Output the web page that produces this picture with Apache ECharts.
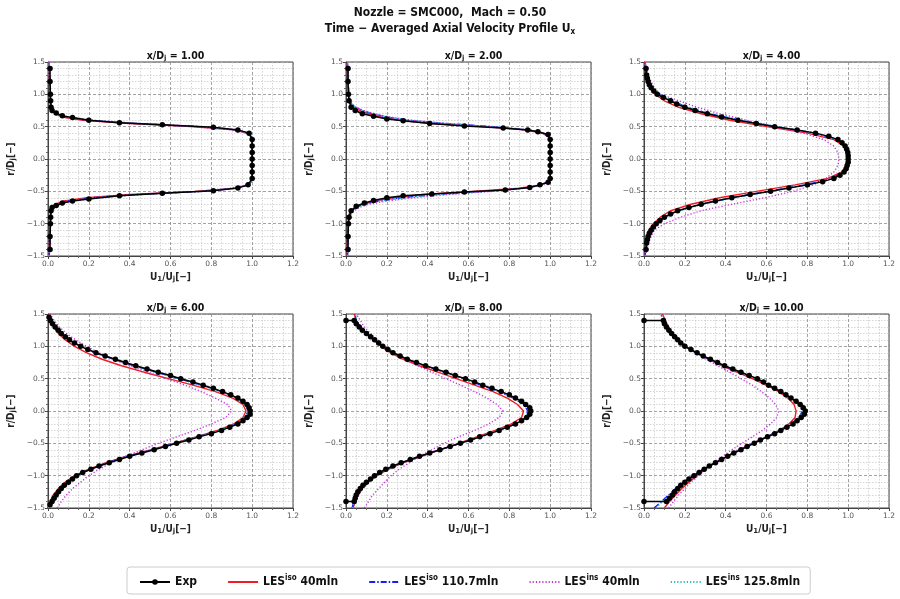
<!DOCTYPE html>
<html>
<head>
<meta charset="utf-8">
<title>SMC000 axial velocity profiles</title>
<script src="https://cdn.jsdelivr.net/npm/echarts@6/dist/echarts.min.js"></script>
<style>
html, body { margin: 0; padding: 0; background: #fff; }
#chart { width: 900px; height: 599px; }
</style>
</head>
<body>
<div id="chart"></div>
<script>
// stations x/Dj, one panel each
const STATIONS = ['1.00', '2.00', '4.00', '6.00', '8.00', '10.00']
const U_TICKS = [0.0, 0.2, 0.4, 0.6, 0.8, 1.0, 1.2]
const R_TICKS = [-1.5, -1.0, -0.5, 0.0, 0.5, 1.0, 1.5]

// r/Dj sample points of the LES profiles
const R_SIM_1 = [-1.5, -1.2, -1.0, -0.85, -0.8, -0.75, -0.7, -0.65, -0.6, -0.55, -0.5, -0.45, -0.4, -0.35, -0.3, 0, 0.3, 0.35, 0.4, 0.45, 0.5, 0.55, 0.6, 0.65, 0.7, 0.75, 0.8, 0.85, 1.0, 1.2, 1.5]
const R_SIM_2 = [-1.5, -1.2, -1.0, -0.9, -0.85, -0.8, -0.75, -0.7, -0.65, -0.6, -0.55, -0.5, -0.45, -0.4, -0.35, -0.3, 0, 0.3, 0.35, 0.4, 0.45, 0.5, 0.55, 0.6, 0.65, 0.7, 0.75, 0.8, 0.85, 0.9, 1.0, 1.2, 1.5]
const R_PROFILE = [-1.5, -1.4, -1.3, -1.2, -1.1, -1.0, -0.9, -0.8, -0.7, -0.6, -0.5, -0.4, -0.3, -0.2, -0.1, 0, 0.1, 0.2, 0.3, 0.4, 0.5, 0.6, 0.7, 0.8, 0.9, 1.0, 1.1, 1.2, 1.3, 1.4, 1.5]

// x/Dj = 1
const ISO40_1 = [0.005, 0.008, 0.01, 0.012, 0.015, 0.02, 0.035, 0.08, 0.19, 0.4, 0.72, 0.92, 0.975, 0.995, 1.0, 1.0, 1.0, 0.995, 0.975, 0.91, 0.7, 0.4, 0.17, 0.07, 0.035, 0.02, 0.015, 0.012, 0.01, 0.008, 0.005]
const ISO110_1 = [0.006, 0.01, 0.012, 0.015, 0.018, 0.025, 0.04, 0.09, 0.21, 0.43, 0.76, 0.93, 0.98, 0.997, 1.0, 1.0, 1.0, 0.997, 0.98, 0.93, 0.75, 0.43, 0.19, 0.08, 0.04, 0.022, 0.016, 0.013, 0.011, 0.009, 0.006]
const INS40_1 = [0.004, 0.007, 0.009, 0.012, 0.016, 0.03, 0.06, 0.12, 0.24, 0.45, 0.74, 0.9, 0.97, 0.99, 1.0, 1.0, 1.0, 0.99, 0.97, 0.9, 0.72, 0.44, 0.22, 0.1, 0.05, 0.025, 0.015, 0.011, 0.009, 0.007, 0.004]
const INS125_1 = [0.005, 0.009, 0.011, 0.014, 0.018, 0.026, 0.045, 0.1, 0.22, 0.44, 0.75, 0.92, 0.978, 0.995, 1.0, 1.0, 1.0, 0.995, 0.978, 0.92, 0.74, 0.43, 0.2, 0.09, 0.042, 0.024, 0.017, 0.013, 0.01, 0.008, 0.005]
const EXP_R_1 = [-1.4, -1.2, -1.0, -0.9, -0.8, -0.75, -0.72, -0.68, -0.65, -0.62, -0.57, -0.53, -0.49, -0.45, -0.4, -0.3, -0.2, -0.1, 0, 0.1, 0.2, 0.3, 0.4, 0.45, 0.49, 0.53, 0.56, 0.6, 0.64, 0.67, 0.71, 0.75, 0.8, 0.9, 1.0, 1.2, 1.4]
const EXP_U_1 = [0.01, 0.01, 0.012, 0.013, 0.015, 0.02, 0.04, 0.07, 0.12, 0.2, 0.35, 0.56, 0.81, 0.93, 0.98, 1.0, 1.0, 1.0, 1.0, 1.0, 1.0, 1.0, 0.985, 0.93, 0.81, 0.56, 0.35, 0.2, 0.12, 0.07, 0.04, 0.02, 0.015, 0.013, 0.012, 0.01, 0.01]

// x/Dj = 2
const ISO40_2 = [0.006, 0.008, 0.01, 0.012, 0.016, 0.025, 0.045, 0.08, 0.14, 0.23, 0.38, 0.62, 0.85, 0.95, 0.99, 1.0, 1.0, 1.0, 0.99, 0.96, 0.87, 0.67, 0.42, 0.26, 0.17, 0.11, 0.065, 0.038, 0.024, 0.017, 0.012, 0.009, 0.006]
const ISO110_2 = [0.008, 0.01, 0.012, 0.015, 0.02, 0.03, 0.05, 0.09, 0.16, 0.27, 0.44, 0.68, 0.88, 0.96, 0.993, 1.0, 1.0, 1.0, 0.993, 0.97, 0.9, 0.72, 0.48, 0.3, 0.2, 0.13, 0.08, 0.045, 0.028, 0.02, 0.015, 0.01, 0.008]
const INS40_2 = [0.006, 0.008, 0.011, 0.016, 0.025, 0.04, 0.065, 0.11, 0.2, 0.33, 0.5, 0.72, 0.88, 0.96, 0.99, 1.0, 1.0, 1.0, 0.99, 0.965, 0.89, 0.71, 0.49, 0.32, 0.21, 0.14, 0.085, 0.05, 0.03, 0.02, 0.014, 0.009, 0.006]
const INS125_2 = [0.008, 0.01, 0.012, 0.016, 0.022, 0.032, 0.055, 0.095, 0.17, 0.28, 0.45, 0.69, 0.88, 0.96, 0.993, 1.0, 1.0, 1.0, 0.993, 0.97, 0.9, 0.72, 0.48, 0.3, 0.2, 0.13, 0.08, 0.046, 0.029, 0.02, 0.015, 0.01, 0.008]
const EXP_R_2 = [-1.4, -1.2, -1.0, -0.9, -0.8, -0.73, -0.68, -0.64, -0.6, -0.57, -0.54, -0.51, -0.48, -0.44, -0.4, -0.36, -0.3, -0.2, -0.1, 0, 0.1, 0.2, 0.3, 0.38, 0.42, 0.45, 0.48, 0.51, 0.55, 0.59, 0.62, 0.66, 0.7, 0.75, 0.8, 0.9, 1.0, 1.2, 1.4]
const EXP_U_2 = [0.01, 0.01, 0.012, 0.015, 0.025, 0.05, 0.09, 0.135, 0.2, 0.28, 0.42, 0.58, 0.78, 0.9, 0.95, 0.99, 1.0, 1.0, 1.0, 1.0, 1.0, 1.0, 1.0, 0.99, 0.94, 0.89, 0.77, 0.58, 0.41, 0.28, 0.2, 0.135, 0.08, 0.045, 0.025, 0.015, 0.012, 0.01, 0.01]

// x/Dj = 4
const ISO40_3 = [0.004, 0.006, 0.009, 0.014, 0.024, 0.045, 0.08, 0.13, 0.23, 0.37, 0.55, 0.74, 0.9, 0.97, 0.99, 0.995, 0.995, 0.98, 0.93, 0.8, 0.6, 0.42, 0.28, 0.17, 0.1, 0.055, 0.028, 0.015, 0.009, 0.006, 0.004]
const ISO110_3 = [0.005, 0.008, 0.012, 0.018, 0.032, 0.058, 0.1, 0.17, 0.28, 0.43, 0.61, 0.79, 0.92, 0.975, 0.993, 0.997, 0.997, 0.985, 0.945, 0.84, 0.65, 0.47, 0.32, 0.21, 0.135, 0.075, 0.038, 0.02, 0.012, 0.008, 0.005]
const INS40_3 = [0.008, 0.013, 0.022, 0.035, 0.05, 0.1, 0.18, 0.28, 0.43, 0.59, 0.73, 0.83, 0.89, 0.93, 0.95, 0.955, 0.95, 0.93, 0.88, 0.78, 0.64, 0.5, 0.37, 0.26, 0.17, 0.08, 0.05, 0.035, 0.02, 0.012, 0.008]
const INS125_3 = [0.005, 0.009, 0.013, 0.02, 0.035, 0.062, 0.105, 0.175, 0.285, 0.44, 0.62, 0.8, 0.925, 0.975, 0.993, 0.997, 0.997, 0.985, 0.945, 0.845, 0.66, 0.48, 0.33, 0.215, 0.14, 0.08, 0.04, 0.022, 0.013, 0.009, 0.005]
const EXP_R_3 = [-1.4, -1.3, -1.25, -1.2, -1.15, -1.1, -1.05, -1.0, -0.95, -0.9, -0.85, -0.8, -0.75, -0.7, -0.65, -0.6, -0.55, -0.5, -0.45, -0.4, -0.35, -0.3, -0.25, -0.2, -0.15, -0.1, -0.05, 0, 0.05, 0.1, 0.15, 0.2, 0.25, 0.3, 0.35, 0.4, 0.45, 0.5, 0.55, 0.6, 0.65, 0.7, 0.75, 0.8, 0.85, 0.9, 0.95, 1.0, 1.05, 1.1, 1.15, 1.2, 1.25, 1.3, 1.4]
const EXP_U_3 = [0.01, 0.013, 0.016, 0.02, 0.026, 0.035, 0.046, 0.06, 0.078, 0.1, 0.13, 0.165, 0.22, 0.28, 0.35, 0.43, 0.52, 0.62, 0.71, 0.8, 0.875, 0.93, 0.96, 0.98, 0.99, 0.995, 1.0, 1.0, 1.0, 0.998, 0.993, 0.985, 0.97, 0.95, 0.905, 0.84, 0.75, 0.64, 0.55, 0.46, 0.38, 0.31, 0.25, 0.2, 0.16, 0.13, 0.095, 0.065, 0.048, 0.035, 0.026, 0.02, 0.016, 0.013, 0.01]

// x/Dj = 6
const ISO40_4 = [0.0, 0.01, 0.025, 0.05, 0.085, 0.13, 0.2, 0.285, 0.385, 0.5, 0.615, 0.725, 0.83, 0.91, 0.955, 0.97, 0.955, 0.905, 0.82, 0.71, 0.59, 0.47, 0.36, 0.265, 0.19, 0.13, 0.085, 0.05, 0.028, 0.012, 0.003]
const ISO110_4 = [0.0, 0.015, 0.035, 0.06, 0.095, 0.14, 0.205, 0.29, 0.39, 0.51, 0.62, 0.73, 0.84, 0.92, 0.965, 0.98, 0.97, 0.925, 0.85, 0.75, 0.64, 0.53, 0.42, 0.32, 0.23, 0.16, 0.1, 0.065, 0.038, 0.018, 0.005]
const INS40_4 = [0.045, 0.065, 0.09, 0.12, 0.16, 0.2, 0.25, 0.31, 0.38, 0.46, 0.54, 0.63, 0.72, 0.8, 0.87, 0.9, 0.88, 0.82, 0.75, 0.67, 0.58, 0.49, 0.4, 0.32, 0.25, 0.19, 0.135, 0.09, 0.055, 0.03, 0.01]
const INS125_4 = [0.002, 0.016, 0.036, 0.062, 0.098, 0.145, 0.21, 0.295, 0.395, 0.51, 0.625, 0.735, 0.84, 0.92, 0.965, 0.98, 0.968, 0.922, 0.848, 0.75, 0.64, 0.53, 0.42, 0.32, 0.235, 0.165, 0.105, 0.068, 0.04, 0.02, 0.006]
const EXP_R_4 = [-1.45, -1.4, -1.35, -1.3, -1.25, -1.2, -1.15, -1.1, -1.05, -1.0, -0.95, -0.9, -0.85, -0.8, -0.75, -0.7, -0.65, -0.6, -0.55, -0.5, -0.45, -0.4, -0.35, -0.3, -0.25, -0.2, -0.15, -0.1, -0.05, 0, 0.05, 0.1, 0.15, 0.2, 0.25, 0.3, 0.35, 0.4, 0.45, 0.5, 0.55, 0.6, 0.65, 0.7, 0.75, 0.8, 0.85, 0.9, 0.95, 1.0, 1.05, 1.1, 1.15, 1.2, 1.25, 1.3, 1.35, 1.4, 1.45]
const EXP_U_4 = [0.01, 0.02, 0.03, 0.04, 0.052, 0.065, 0.08, 0.1, 0.12, 0.14, 0.17, 0.21, 0.25, 0.3, 0.35, 0.4, 0.46, 0.52, 0.575, 0.63, 0.69, 0.74, 0.8, 0.85, 0.89, 0.93, 0.955, 0.975, 0.99, 0.99, 0.985, 0.975, 0.955, 0.93, 0.895, 0.855, 0.81, 0.76, 0.71, 0.65, 0.6, 0.54, 0.485, 0.43, 0.38, 0.33, 0.28, 0.235, 0.195, 0.16, 0.13, 0.105, 0.085, 0.065, 0.05, 0.035, 0.022, 0.012, 0.005]

// x/Dj = 8
const ISO40_5 = [0.035, 0.045, 0.06, 0.08, 0.11, 0.15, 0.21, 0.28, 0.37, 0.46, 0.55, 0.64, 0.73, 0.81, 0.86, 0.87, 0.84, 0.79, 0.72, 0.63, 0.54, 0.45, 0.36, 0.28, 0.22, 0.17, 0.135, 0.1, 0.07, 0.05, 0.04]
const ISO110_5 = [0.03, 0.038, 0.05, 0.07, 0.1, 0.14, 0.2, 0.275, 0.365, 0.46, 0.56, 0.66, 0.75, 0.83, 0.88, 0.89, 0.87, 0.82, 0.75, 0.66, 0.575, 0.48, 0.385, 0.3, 0.235, 0.18, 0.14, 0.1, 0.068, 0.05, 0.045]
const INS40_5 = [0.09, 0.11, 0.13, 0.16, 0.19, 0.22, 0.26, 0.31, 0.36, 0.42, 0.48, 0.55, 0.63, 0.7, 0.75, 0.77, 0.74, 0.69, 0.63, 0.56, 0.49, 0.42, 0.35, 0.29, 0.24, 0.19, 0.155, 0.12, 0.09, 0.07, 0.05]
const INS125_5 = [0.032, 0.04, 0.052, 0.072, 0.102, 0.142, 0.2, 0.275, 0.365, 0.46, 0.56, 0.66, 0.75, 0.83, 0.88, 0.895, 0.875, 0.825, 0.755, 0.665, 0.578, 0.482, 0.388, 0.302, 0.236, 0.182, 0.142, 0.102, 0.07, 0.052, 0.046]
// the measured traverse at 8 and 10 starts and ends with a point on the axis
const EXP_R_FAR = [-1.4, -1.4, -1.35, -1.3, -1.25, -1.2, -1.15, -1.1, -1.05, -1.0, -0.95, -0.9, -0.85, -0.8, -0.75, -0.7, -0.65, -0.6, -0.55, -0.5, -0.45, -0.4, -0.35, -0.3, -0.25, -0.2, -0.15, -0.1, -0.05, 0, 0.05, 0.1, 0.15, 0.2, 0.25, 0.3, 0.35, 0.4, 0.45, 0.5, 0.55, 0.6, 0.65, 0.7, 0.75, 0.8, 0.85, 0.9, 0.95, 1.0, 1.05, 1.1, 1.15, 1.2, 1.25, 1.3, 1.35, 1.4, 1.4]
const EXP_U_5 = [0.0, 0.04, 0.045, 0.05, 0.058, 0.07, 0.083, 0.1, 0.12, 0.14, 0.165, 0.195, 0.23, 0.27, 0.315, 0.36, 0.41, 0.46, 0.51, 0.56, 0.61, 0.655, 0.705, 0.75, 0.79, 0.83, 0.86, 0.885, 0.9, 0.905, 0.9, 0.88, 0.86, 0.83, 0.8, 0.76, 0.715, 0.67, 0.63, 0.585, 0.535, 0.49, 0.44, 0.39, 0.345, 0.3, 0.265, 0.23, 0.205, 0.18, 0.16, 0.14, 0.12, 0.1, 0.08, 0.065, 0.05, 0.04, 0.0]

// x/Dj = 10
const ISO40_6 = [0.1, 0.125, 0.155, 0.185, 0.22, 0.26, 0.3, 0.35, 0.405, 0.465, 0.53, 0.6, 0.665, 0.71, 0.74, 0.745, 0.735, 0.705, 0.66, 0.6, 0.53, 0.455, 0.38, 0.315, 0.255, 0.205, 0.17, 0.14, 0.12, 0.105, 0.09]
const ISO110_6 = [0.05, 0.085, 0.12, 0.155, 0.195, 0.24, 0.29, 0.345, 0.405, 0.47, 0.535, 0.6, 0.665, 0.72, 0.76, 0.775, 0.76, 0.72, 0.67, 0.61, 0.545, 0.465, 0.39, 0.32, 0.255, 0.2, 0.165, 0.135, 0.115, 0.1, 0.08]
const INS40_6 = [0.12, 0.145, 0.17, 0.2, 0.23, 0.265, 0.3, 0.34, 0.385, 0.43, 0.48, 0.53, 0.58, 0.62, 0.65, 0.66, 0.645, 0.615, 0.575, 0.53, 0.475, 0.42, 0.36, 0.305, 0.255, 0.21, 0.175, 0.145, 0.12, 0.105, 0.09]
const INS125_6 = [0.06, 0.09, 0.122, 0.157, 0.197, 0.242, 0.292, 0.347, 0.407, 0.472, 0.537, 0.602, 0.667, 0.722, 0.762, 0.777, 0.762, 0.722, 0.672, 0.612, 0.547, 0.467, 0.392, 0.322, 0.257, 0.202, 0.167, 0.137, 0.117, 0.1, 0.085]
const EXP_U_6 = [0.0, 0.11, 0.125, 0.14, 0.15, 0.165, 0.18, 0.2, 0.22, 0.245, 0.27, 0.295, 0.32, 0.35, 0.38, 0.41, 0.44, 0.475, 0.505, 0.54, 0.57, 0.605, 0.64, 0.67, 0.7, 0.73, 0.75, 0.77, 0.785, 0.79, 0.78, 0.765, 0.745, 0.72, 0.695, 0.67, 0.64, 0.61, 0.585, 0.555, 0.515, 0.475, 0.435, 0.395, 0.36, 0.325, 0.29, 0.26, 0.23, 0.2, 0.18, 0.165, 0.15, 0.135, 0.122, 0.11, 0.1, 0.095, 0.0]

const PANELS = [
  { r: R_SIM_1, sims: [ISO40_1, ISO110_1, INS40_1, INS125_1], expR: EXP_R_1, expU: EXP_U_1 },
  { r: R_SIM_2, sims: [ISO40_2, ISO110_2, INS40_2, INS125_2], expR: EXP_R_2, expU: EXP_U_2 },
  { r: R_PROFILE, sims: [ISO40_3, ISO110_3, INS40_3, INS125_3], expR: EXP_R_3, expU: EXP_U_3 },
  { r: R_PROFILE, sims: [ISO40_4, ISO110_4, INS40_4, INS125_4], expR: EXP_R_4, expU: EXP_U_4 },
  { r: R_PROFILE, sims: [ISO40_5, ISO110_5, INS40_5, INS125_5], expR: EXP_R_FAR, expU: EXP_U_5 },
  { r: R_PROFILE, sims: [ISO40_6, ISO110_6, INS40_6, INS125_6], expR: EXP_R_FAR, expU: EXP_U_6 }
]

const FONT = 'DejaVu Sans'
const TITLE_FONT = "'DejaVu Sans Condensed', 'DejaVu Sans'"
const LEGEND_NAMES = ['Exp', 'LES iso 40mln', 'LES iso 110.7mln', 'LES ins 40mln', 'LES ins 125.8mln']
const LEGEND_RICH_TEXT = {
  'Exp': '{b|Exp}',
  'LES iso 40mln': '{b|LES}{sup|iso}{b| 40mln}',
  'LES iso 110.7mln': '{b|LES}{sup|iso}{b| 110.7mln}',
  'LES ins 40mln': '{b|LES}{sup|ins}{b| 40mln}',
  'LES ins 125.8mln': '{b|LES}{sup|ins}{b| 125.8mln}'
}
const SIM_STYLES = [
  { color: '#f01c24', type: 'solid', width: 1.4 },
  { color: '#1a1aff', type: [6, 2, 1.5, 2], width: 1.4 },
  { color: '#c433e0', type: [1.2, 2], width: 1.4 },
  { color: '#1fbfbf', type: [1.2, 2], width: 1.4 }
]

const GRID_LEFTS = [48, 346, 644]
const GRID_TOPS = [62, 314]
const GRID_W = 245
const GRID_H = 194

const sub = (size, pad) => ({ fontSize: size, fontWeight: 'bold', fontFamily: FONT, color: '#222', padding: [pad, 0, 0, 0] })
const AXIS_RICH = {
  n: { fontSize: 10, fontWeight: 'bold', fontFamily: TITLE_FONT, color: '#222' },
  s: sub(7, 5)
}

const zip = (u, r) => u.map((v, i) => [v, r[i]])
const fmt = (v) => v.toFixed(1).replace('-', '\u2212')

const chart = echarts.init(document.getElementById('chart'))

const grid = [], xAxis = [], yAxis = [], title = [], series = []

title.push({
  text: '{t|Nozzle = SMC000,  Mach = 0.50}\n{t|Time \u2212 Averaged Axial Velocity Profile U}{s|x}',
  left: 'center',
  top: 0,
  textStyle: {
    rich: {
      t: { fontSize: 12, fontWeight: 'bold', fontFamily: TITLE_FONT, color: '#111', lineHeight: 16 },
      s: { fontSize: 8, fontWeight: 'bold', fontFamily: TITLE_FONT, color: '#111', padding: [6, 0, 0, 0] }
    }
  }
})

PANELS.forEach((p, i) => {
  const col = i % 3, row = Math.floor(i / 3)
  const left = GRID_LEFTS[col], top = GRID_TOPS[row]
  grid.push({ left: left, top: top, width: GRID_W, height: GRID_H, show: true, borderColor: '#444', borderWidth: 1, backgroundColor: '#fff' })
  title.push({
    text: '{n|x/D}{s|j}{n| = ' + STATIONS[i] + '}',
    left: left + GRID_W / 2,
    top: top - 17,
    textAlign: 'center',
    textStyle: { rich: { n: { fontSize: 10.5, fontWeight: 'bold', fontFamily: TITLE_FONT, color: '#111' }, s: sub(7, 5) } }
  })
  xAxis.push({
    gridIndex: i,
    type: 'value',
    min: U_TICKS[0],
    max: U_TICKS[U_TICKS.length - 1],
    interval: U_TICKS[1] - U_TICKS[0],
    name: '{n|U}{s|1}{n|/U}{s|j}{n|[\u2212]}',
    nameLocation: 'middle',
    nameGap: 15,
    nameTextStyle: { rich: AXIS_RICH },
    axisLine: { show: true, onZero: false, lineStyle: { color: '#444', width: 1 } },
    axisTick: { show: true, length: 3, lineStyle: { color: '#444' } },
    minorTick: { show: true, splitNumber: 4, length: 2, lineStyle: { color: '#666' } },
    axisLabel: { fontSize: 7.5, color: '#555', fontFamily: FONT, margin: 4, formatter: fmt },
    splitLine: { show: true, lineStyle: { color: '#8c8c8c', type: [3, 2], width: 0.8 } },
    minorSplitLine: { show: true, lineStyle: { color: '#c4c4c4', type: [1.5, 1.5], width: 0.7 } }
  })
  yAxis.push({
    gridIndex: i,
    type: 'value',
    min: R_TICKS[0],
    max: R_TICKS[R_TICKS.length - 1],
    interval: R_TICKS[1] - R_TICKS[0],
    name: '{n|r/D}{s|j}{n|[\u2212]}',
    nameLocation: 'middle',
    nameRotate: 90,
    nameGap: 31,
    nameTextStyle: { rich: AXIS_RICH },
    axisLine: { show: true, onZero: false, lineStyle: { color: '#444', width: 1 } },
    axisTick: { show: true, length: 3, lineStyle: { color: '#444' } },
    minorTick: { show: true, splitNumber: 5, length: 2, lineStyle: { color: '#666' } },
    axisLabel: { fontSize: 7.5, color: '#555', fontFamily: FONT, margin: 3, formatter: fmt },
    splitLine: { show: true, lineStyle: { color: '#8c8c8c', type: [3, 2], width: 0.8 } },
    minorSplitLine: { show: true, lineStyle: { color: '#c4c4c4', type: [1.5, 1.5], width: 0.7 } }
  })
  p.sims.forEach((u, k) => {
    series.push({
      name: LEGEND_NAMES[k + 1],
      type: 'line',
      xAxisIndex: i,
      yAxisIndex: i,
      data: zip(u, p.r),
      showSymbol: false,
      symbol: 'none',
      clip: true,
      z: 3,
      itemStyle: { color: SIM_STYLES[k].color },
      lineStyle: SIM_STYLES[k]
    })
  })
  series.push({
    name: LEGEND_NAMES[0],
    type: 'line',
    xAxisIndex: i,
    yAxisIndex: i,
    data: zip(p.expU, p.expR),
    symbol: 'circle',
    symbolSize: 5.5,
    showAllSymbol: true,
    clip: true,
    z: 4,
    itemStyle: { color: '#000' },
    lineStyle: { color: '#000', width: 1.5 }
  })
})

// the LES entries are plain line samples, hide the symbol that the legend adds
const legendData = LEGEND_NAMES.map((name, k) => k === 0 ? { name: name } : { name: name, itemStyle: { opacity: 0 } })

chart.setOption({
  animation: false,
  backgroundColor: '#fff',
  title: title,
  grid: grid,
  xAxis: xAxis,
  yAxis: yAxis,
  legend: {
    data: legendData,
    left: 127,
    top: 567,
    itemWidth: 30,
    itemHeight: 7,
    itemGap: 30,
    padding: [7, 10, 6, 12],
    borderColor: '#cccccc',
    borderWidth: 1,
    borderRadius: 3,
    formatter: (name) => LEGEND_RICH_TEXT[name],
    textStyle: {
      rich: {
        b: { fontSize: 12, fontWeight: 'bold', fontFamily: TITLE_FONT, color: '#111' },
        sup: { fontSize: 8, fontWeight: 'bold', fontFamily: TITLE_FONT, color: '#111', padding: [0, 0, 8, 0] }
      }
    }
  },
  series: series
})
</script>
</body>
</html>
